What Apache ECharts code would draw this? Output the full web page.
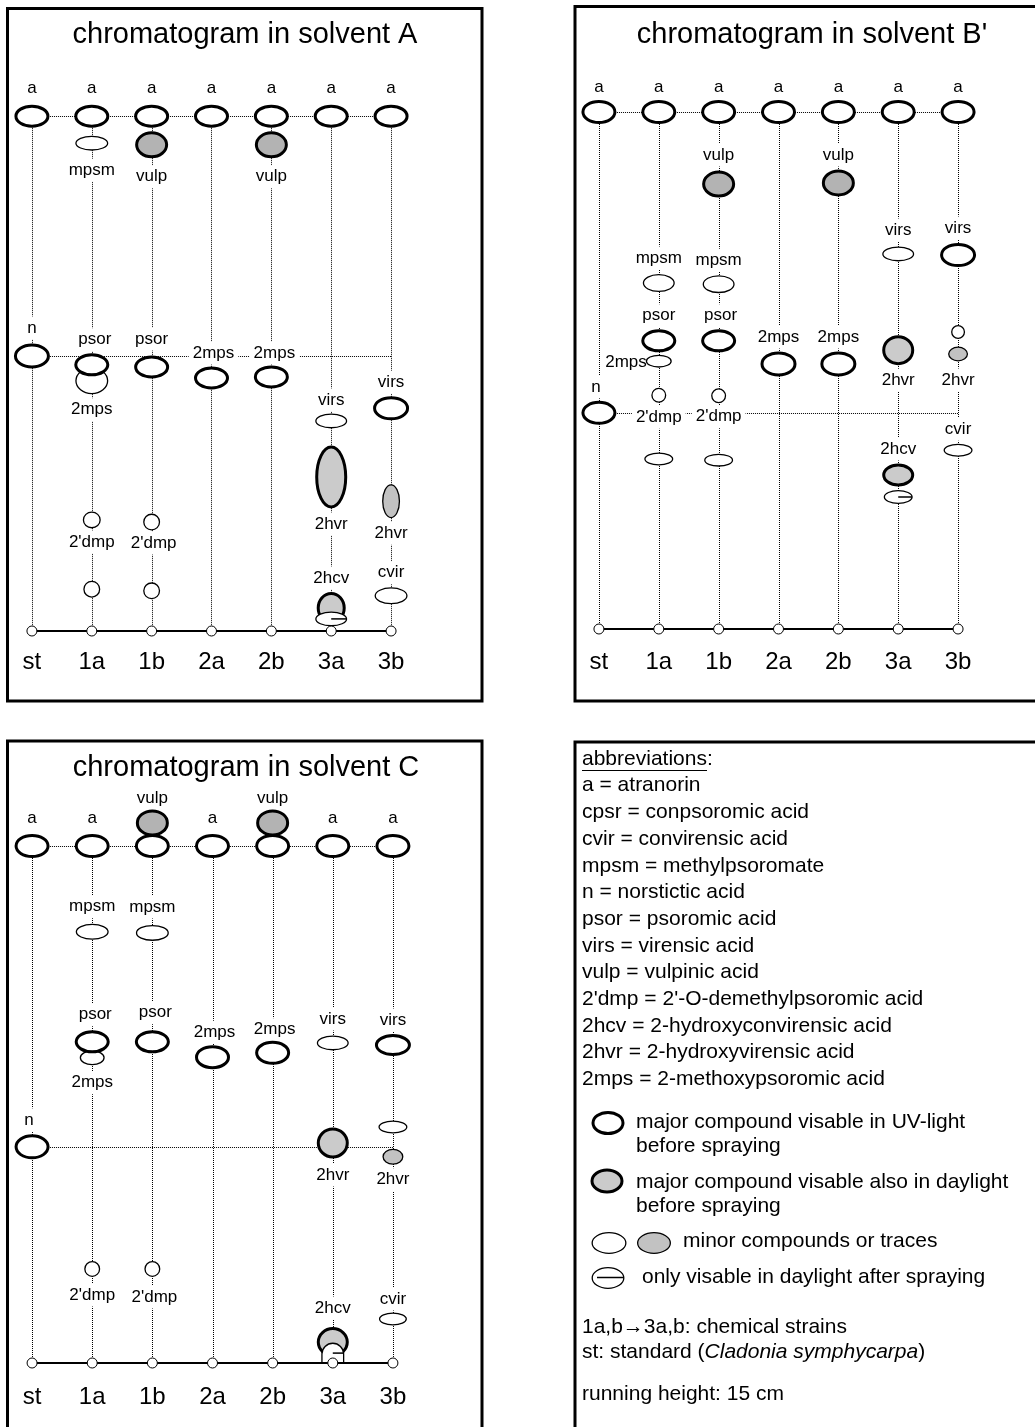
<!DOCTYPE html>
<html>
<head>
<meta charset="utf-8">
<title>Chromatograms of chemical strains</title>
<script src="https://cdn.jsdelivr.net/npm/echarts@6/dist/echarts.min.js"></script>
<style>
  html, body { margin: 0; padding: 0; background: #fff; }
  #chart { width: 1035px; height: 1427px; }
</style>
</head>
<body>
<div id="chart"></div>
<script>
const FONT = '"Liberation Sans", Arial, Helvetica, sans-serif';

// Lanes on every plate: the standard and the chemical strains
const lanes = ['st', '1a', '1b', '2a', '2b', '3a', '3b'];

// Spots: [lane, migration (relative units, start line = 0), compound, spot class]
const spotsA = [
  ['st', 93.6, 'a', 'uv'], ['1a', 93.6, 'a', 'uv'], ['1b', 93.6, 'a', 'uv'], ['2a', 93.6, 'a', 'uv'],
  ['2b', 93.6, 'a', 'uv'], ['3a', 93.6, 'a', 'uv'], ['3b', 93.6, 'a', 'uv'],
  ['st', 50.0, 'n', 'uv'],
  ['1a', 88.7, 'mpsm', 'minor'],
  ['1a', 45.5, '2mps', 'minor'],
  ['1a', 48.4, 'psor', 'uv'],
  ['1a', 20.2, "2'dmp", 'minor'],
  ['1a', 7.6, '', 'minor'],
  ['1b', 88.4, 'vulp', 'day'],
  ['1b', 48.0, 'psor', 'uv'],
  ['1b', 19.8, "2'dmp", 'minor'],
  ['1b', 7.3, '', 'minor'],
  ['2a', 46.0, '2mps', 'uv'],
  ['2b', 88.4, 'vulp', 'day'],
  ['2b', 46.2, '2mps', 'uv'],
  ['3a', 38.2, 'virs', 'minor'],
  ['3a', 28.0, '2hvr', 'day2'],
  ['3a', 4.2, '2hcv', 'day2'],
  ['3a', 2.2, '', 'spray'],
  ['3b', 40.5, 'virs', 'uv'],
  ['3b', 23.6, '2hvr', 'minorGray'],
  ['3b', 6.4, 'cvir', 'minor']
];

const spotsB = [
  ['st', 94.0, 'a', 'uv'], ['1a', 94.0, 'a', 'uv'], ['1b', 94.0, 'a', 'uv'], ['2a', 94.0, 'a', 'uv'],
  ['2b', 94.0, 'a', 'uv'], ['3a', 94.0, 'a', 'uv'], ['3b', 94.0, 'a', 'uv'],
  ['st', 39.3, 'n', 'uv'],
  ['1a', 62.9, 'mpsm', 'minor'],
  ['1a', 52.4, 'psor', 'uv'],
  ['1a', 48.7, '2mps', 'minor'],
  ['1a', 42.5, "2'dmp", 'minor'],
  ['1a', 30.9, '', 'minor'],
  ['1b', 80.9, 'vulp', 'day'],
  ['1b', 62.7, 'mpsm', 'minor'],
  ['1b', 52.4, 'psor', 'uv'],
  ['1b', 42.4, "2'dmp", 'minor'],
  ['1b', 30.7, '', 'minor'],
  ['2a', 48.2, '2mps', 'uv'],
  ['2b', 81.1, 'vulp', 'day'],
  ['2b', 48.2, '2mps', 'uv'],
  ['3a', 68.2, 'virs', 'minor'],
  ['3a', 50.7, '2hvr', 'day2'],
  ['3a', 28.0, '2hcv', 'day2'],
  ['3a', 24.0, '', 'spray'],
  ['3b', 68.0, 'virs', 'uv'],
  ['3b', 54.0, '', 'minor'],
  ['3b', 50.0, '2hvr', 'minorGray'],
  ['3b', 32.5, 'cvir', 'minor']
];

const spotsC = [
  ['st', 94.0, 'a', 'uv'], ['1a', 94.0, 'a', 'uv'], ['1b', 94.0, 'a', 'uv'], ['2a', 94.0, 'a', 'uv'],
  ['2b', 94.0, 'a', 'uv'], ['3a', 94.0, 'a', 'uv'], ['3b', 94.0, 'a', 'uv'],
  ['1b', 98.2, 'vulp', 'day'],
  ['2b', 98.2, 'vulp', 'day'],
  ['st', 39.3, 'n', 'uv'],
  ['1a', 78.4, 'mpsm', 'minor'],
  ['1a', 55.5, '2mps', 'minor'],
  ['1a', 58.4, 'psor', 'uv'],
  ['1a', 17.1, "2'dmp", 'minor'],
  ['1b', 78.2, 'mpsm', 'minor'],
  ['1b', 58.4, 'psor', 'uv'],
  ['1b', 17.1, "2'dmp", 'minor'],
  ['2a', 55.6, '2mps', 'uv'],
  ['2b', 56.4, '2mps', 'uv'],
  ['3a', 58.2, 'virs', 'minor'],
  ['3a', 40.0, '2hvr', 'day2'],
  ['3a', 3.8, '2hcv', 'day2'],
  ['3a', 1.8, '', 'spray'],
  ['3b', 57.8, 'virs', 'uv'],
  ['3b', 42.9, '', 'minor'],
  ['3b', 37.5, '2hvr', 'minorGray'],
  ['3b', 8.0, 'cvir', 'minor']
];

// Drawing of each spot: [width px, height px, label dx, label dy, label align, outline form]
const shapesA = [
  [35, 23, 0, -28], [35, 23, 0, -28], [35, 23, 0, -28], [35, 23, 0, -28],
  [35, 23, 0, -28], [35, 23, 0, -28], [35, 23, 0, -28],
  [36, 25, 0, -28],
  [33, 15, 0, 27],
  [33, 27, 0, 29],
  [35, 23, 3, -25],
  [18, 17, 0, 22],
  [17, 17],
  [33, 27, 0, 32],
  [35, 23, 0, -28],
  [17, 17, 2, 21],
  [17, 17],
  [35, 23, 2, -25],
  [33, 27, 0, 32],
  [35, 23, 3, -24],
  [32, 15, 0, -21],
  [32, 63, 0, 47],
  [29, 32, 0, -30],
  [32, 15],
  [36, 24, 0, -26],
  [18, 34, 0, 32],
  [33, 17, 0, -23]
];

const shapesB = [
  [35, 24, 0, -25], [35, 24, 0, -25], [35, 24, 0, -25], [35, 24, 0, -25],
  [35, 24, 0, -25], [35, 24, 0, -25], [35, 24, 0, -25],
  [35, 24, -3, -26],
  [32, 18, 0, -25],
  [35, 23, 0, -25],
  [26, 13, 5, 1, 'right'],
  [15, 15, 0, 22],
  [29, 13],
  [33, 27, 0, -29],
  [32, 18, 0, -24],
  [35, 23, 2, -25],
  [15, 15, 0, 21],
  [29, 13],
  [36, 25, 0, -27],
  [33, 27, 0, -28],
  [36, 25, 0, -27],
  [32, 15, 0, -24],
  [32, 30, 0, 30],
  [32, 23, 0, -26],
  [29, 14],
  [36, 24, 0, -27],
  [14, 14],
  [20, 15, 0, 26],
  [29, 13, 0, -21]
];

const shapesC = [
  [35, 24, 0, -28], [35, 24, 0, -28], [35, 24], [35, 24, 0, -28],
  [35, 24], [35, 24, 0, -28], [35, 24, 0, -28],
  [33, 27, 0, -25],
  [33, 27, 0, -25],
  [35, 25, -3, -27],
  [33, 16, 0, -25],
  [25, 15, 0, 25],
  [35, 23, 3, -27],
  [16, 16, 0, 26],
  [33, 16, 0, -26],
  [35, 23, 3, -29],
  [16, 16, 2, 28],
  [35, 24, 2, -25],
  [35, 24, 2, -23],
  [32, 15, 0, -24],
  [32, 31, 0, 32],
  [32, 30, 0, -34],
  [23, 21, 0, 0, '', 'arch'],
  [36, 22, 0, -25],
  [29, 13],
  [21, 16, 0, 23],
  [28, 13, 0, -20]
];

const abbreviations = [
  'a = atranorin',
  'cpsr = conpsoromic acid',
  'cvir = convirensic acid',
  'mpsm = methylpsoromate',
  'n = norstictic acid',
  'psor = psoromic acid',
  'virs = virensic acid',
  'vulp = vulpinic acid',
  "2'dmp = 2'-O-demethylpsoromic acid",
  '2hcv = 2-hydroxyconvirensic acid',
  '2hvr = 2-hydroxyvirensic acid',
  '2mps = 2-methoxypsoromic acid'
];

// Spot classes (see key): outline weight and fill
const spotStyles = {
  uv:        { fill: '#ffffff', lw: 3 },
  day:       { fill: '#b3b3b3', lw: 3 },
  day2:      { fill: '#cbcbcb', lw: 3 },
  minor:     { fill: '#ffffff', lw: 1.3 },
  minorGray: { fill: '#c2c2c2', lw: 1.3 },
  spray:     { fill: '#ffffff', lw: 1.3 }
};

function spotGraphic(kind, cx, cy, w, h, form) {
  const st = spotStyles[kind];
  const rx = w / 2 - st.lw / 2, ry = h / 2 - st.lw / 2;
  const style = { fill: st.fill, stroke: '#000', lineWidth: st.lw };
  const children = [];
  if (form === 'arch') {
    children.push({ type: 'rect', shape: { x: cx - rx, y: cy - ry, width: rx * 2, height: ry * 2, r: [rx, rx, 0, 0] }, style });
  } else {
    children.push({ type: 'ellipse', shape: { cx, cy, rx, ry }, style });
  }
  if (kind === 'spray') {
    children.push({ type: 'line', shape: { x1: cx, y1: cy, x2: cx + rx, y2: cy }, style: { stroke: '#000', lineWidth: 1.5 } });
  }
  return { type: 'group', children };
}

const plates = [
  { spots: spotsA, shapes: shapesA, grid: { left: 2, top: 81, width: 419, height: 550 }, margin: 19 },
  { spots: spotsB, shapes: shapesB, grid: { left: 569, top: 79, width: 419, height: 550 }, margin: 21 },
  { spots: spotsC, shapes: shapesC, grid: { left: 2, top: 813, width: 421, height: 550 }, margin: 22 }
];

const dotted = { stroke: '#000', lineWidth: 1, lineDash: [1, 1] };

function laneValue(spots, lane, comp) {
  const s = spots.find(d => d[0] === lane && d[2] === comp);
  return s ? s[1] : null;
}

const grids = [], xAxes = [], yAxes = [], series = [];
plates.forEach((pl, gi) => {
  grids.push(pl.grid);
  xAxes.push({
    type: 'category', gridIndex: gi, data: lanes, boundaryGap: true,
    axisLine: { show: false }, axisTick: { show: false }, splitLine: { show: false },
    axisLabel: { fontSize: 24, fontFamily: FONT, color: '#000', margin: pl.margin }
  });
  yAxes.push({ type: 'value', gridIndex: gi, min: 0, max: 100, show: false });

  const top = laneValue(pl.spots, 'st', 'a');
  // rows through the standard's atranorin and norstictic acid spots
  const rows = [top, laneValue(pl.spots, 'st', 'n')];

  // vertical dotted lane lines
  series.push({
    type: 'custom', xAxisIndex: gi, yAxisIndex: gi, z: 1, silent: true, clip: false,
    data: lanes.map((l, i) => [i, top]),
    renderItem: (params, api) => {
      const p0 = api.coord([api.value(0), api.value(1)]);
      const p1 = api.coord([api.value(0), 0]);
      const x = Math.round(p0[0]) + 0.5;
      return { type: 'line', shape: { x1: x, y1: p0[1], x2: x, y2: p1[1] }, style: dotted };
    }
  });
  // horizontal dotted reference rows
  series.push({
    type: 'custom', xAxisIndex: gi, yAxisIndex: gi, z: 1, silent: true, clip: false,
    data: rows.map(v => [0, v]),
    renderItem: (params, api) => {
      const p0 = api.coord([0, api.value(1)]);
      const p1 = api.coord([lanes.length - 1, api.value(1)]);
      const y = Math.round(p0[1]) + 0.5;
      return { type: 'line', shape: { x1: p0[0], y1: y, x2: p1[0], y2: y }, style: dotted };
    }
  });
  // compound labels (white boxes break the dotted lines)
  series.push({
    type: 'custom', xAxisIndex: gi, yAxisIndex: gi, z: 2, silent: true, clip: false,
    data: pl.spots.map(s => [lanes.indexOf(s[0]), s[1]]),
    renderItem: (params, api) => {
      const s = pl.spots[params.dataIndex], f = pl.shapes[params.dataIndex];
      if (!s[2] || f[3] === undefined) return null;
      const p = api.coord([api.value(0), api.value(1)]);
      const align = f[4] || 'center';
      const dx = align === 'right' ? -f[0] / 2 + f[2] : f[2];
      return {
        type: 'text', x: p[0] + dx, y: p[1] + f[3],
        style: {
          text: s[2], fill: '#000', font: '17px ' + FONT,
          align, verticalAlign: 'middle', backgroundColor: '#fff', padding: [3, 4]
        }
      };
    }
  });
  // spots
  series.push({
    type: 'custom', xAxisIndex: gi, yAxisIndex: gi, z: 3, silent: true, clip: false,
    data: pl.spots.map(s => [lanes.indexOf(s[0]), s[1]]),
    renderItem: (params, api) => {
      const s = pl.spots[params.dataIndex], f = pl.shapes[params.dataIndex];
      const p = api.coord([api.value(0), api.value(1)]);
      return spotGraphic(s[3], p[0], p[1], f[0], f[1], f[5]);
    }
  });
  // start line with application points
  series.push({
    type: 'line', xAxisIndex: gi, yAxisIndex: gi, z: 5, silent: true, clip: false,
    data: lanes.map(() => 0),
    symbol: 'circle', symbolSize: 10, showSymbol: true,
    itemStyle: { color: '#fff', borderColor: '#000', borderWidth: 1 },
    lineStyle: { color: '#000', width: 2 }
  });
});

// Panels, titles and key
const LX = 582;
const legendFont = '21px ' + FONT;
const graphics = [
  { type: 'rect', shape: { x: 7.5, y: 8.5, width: 474.5, height: 692.5 }, style: { fill: 'none', stroke: '#000', lineWidth: 3 } },
  { type: 'rect', shape: { x: 575, y: 6.5, width: 480, height: 694.5 }, style: { fill: 'none', stroke: '#000', lineWidth: 3 } },
  { type: 'rect', shape: { x: 7.5, y: 741, width: 474.5, height: 700 }, style: { fill: 'none', stroke: '#000', lineWidth: 3 } },
  { type: 'rect', shape: { x: 575, y: 742, width: 480, height: 700 }, style: { fill: 'none', stroke: '#000', lineWidth: 3 } },
  { type: 'text', x: 245, y: 35, style: { text: 'chromatogram in solvent A', font: '29px ' + FONT, fill: '#000', align: 'center', verticalAlign: 'middle' } },
  { type: 'text', x: 812, y: 35, style: { text: "chromatogram in solvent B'", font: '29px ' + FONT, fill: '#000', align: 'center', verticalAlign: 'middle' } },
  { type: 'text', x: 246, y: 768, style: { text: 'chromatogram in solvent C', font: '29px ' + FONT, fill: '#000', align: 'center', verticalAlign: 'middle' } },
  { type: 'text', x: LX, y: 759, style: { text: 'abbreviations:', font: legendFont, fill: '#000', align: 'left', verticalAlign: 'middle' } },
  { type: 'line', shape: { x1: LX, y1: 770.5, x2: LX + 125, y2: 770.5 }, style: { stroke: '#000', lineWidth: 1 } }
];
abbreviations.forEach((t, i) => {
  graphics.push({ type: 'text', x: LX, y: 759 + 26.7 * (i + 1), style: { text: t, font: legendFont, fill: '#000', align: 'left', verticalAlign: 'middle' } });
});
function keyText(x, y, t) {
  graphics.push({ type: 'text', x, y, style: { text: t, font: legendFont, fill: '#000', align: 'left', verticalAlign: 'middle' } });
}
graphics.push(spotGraphic('uv', 608, 1123, 33, 24));
keyText(636, 1122, 'major compound visable in UV-light');
keyText(636, 1146, 'before spraying');
graphics.push(spotGraphic('day2', 607, 1181, 33, 25));
keyText(636, 1182, 'major compound visable also in daylight');
keyText(636, 1206, 'before spraying');
graphics.push(spotGraphic('minor', 609, 1243, 35, 22));
graphics.push(spotGraphic('minorGray', 654, 1243, 34, 22));
keyText(683, 1241, 'minor compounds or traces');
graphics.push({ type: 'ellipse', shape: { cx: 608, cy: 1278, rx: 15.8, ry: 10.3 }, style: { fill: '#fff', stroke: '#000', lineWidth: 1.3 } });
graphics.push({ type: 'line', shape: { x1: 597, y1: 1277.5, x2: 623.8, y2: 1277.5 }, style: { stroke: '#000', lineWidth: 1.5 } });
keyText(642, 1277, 'only visable in daylight after spraying');
keyText(LX, 1327, '1a,b\u21923a,b: chemical strains');
graphics.push({
  type: 'text', x: LX, y: 1352,
  style: {
    text: '{n|st: standard (}{i|Cladonia symphycarpa}{n|)}',
    align: 'left', verticalAlign: 'middle',
    rich: {
      n: { fontSize: 21, fontFamily: FONT, fill: '#000' },
      i: { fontSize: 21, fontFamily: FONT, fontStyle: 'italic', fill: '#000' }
    }
  }
});
keyText(LX, 1394, 'running height: 15 cm');

const chart = echarts.init(document.getElementById('chart'), null, { renderer: 'canvas' });
chart.setOption({
  backgroundColor: '#fff',
  animation: false,
  grid: grids,
  xAxis: xAxes,
  yAxis: yAxes,
  series: series,
  graphic: graphics
});
</script>
</body>
</html>
